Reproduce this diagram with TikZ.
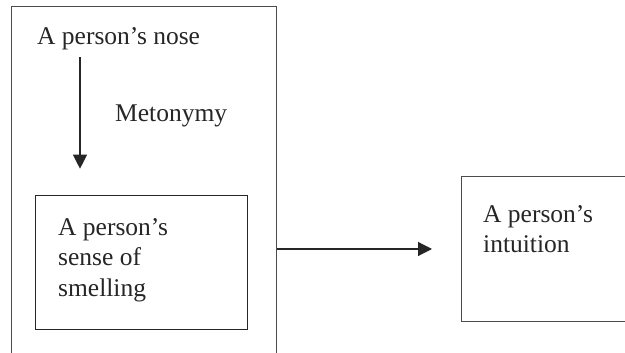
\documentclass[tikz,border=0pt]{standalone}
\usepackage{fontspec}
\setmainfont{Liberation Serif}
\usetikzlibrary{arrows.meta,calc}
\begin{document}
\begin{tikzpicture}[x=1pt,y=1pt,
  lbl/.style={inner sep=0pt, font=\fontsize{25.5}{30.5}\selectfont, align=left, text=black!85},
  outerframe/.style={draw=black!70, line width=1.1pt, inner sep=0pt},
  innerframe/.style={draw=black!85, line width=1.3pt, inner sep=0pt},
  arr/.style={draw=black!85, line width=1.2pt, -{Triangle[width=14pt,length=14pt]}}]
\useasboundingbox (0,0) rectangle (625,353);
% frames (the outer one runs off the bottom, the right one off the right edge)
\node[outerframe, anchor=south west, minimum width=265pt, minimum height=350pt] (outer) at (11,-4) {};
\node[innerframe, anchor=south west, minimum width=212pt, minimum height=134pt] (inner) at (35,23) {};
\node[outerframe, anchor=south west, minimum width=200pt, minimum height=145pt] (target) at (461,31) {};
% texts
\node[lbl, anchor=base west] (nose) at (37,308) {A person’s nose};
\node[lbl, anchor=base west] (meto) at (115,231) {Metonymy};
\node[lbl, anchor=north west] (smell) at (58,135) {A person’s\\sense of\\smelling};
\node[lbl, anchor=north west] (intu) at (483,148) {A person’s\\intuition};
% connectors
\coordinate (row) at (0,104);
\draw[arr, shorten <=6.5pt, shorten >=26pt] ([xshift=43pt]nose.south west) -- ([xshift=45pt]inner.north west);
\draw[arr, shorten >=29pt] (outer.east |- row) -- (target.west |- row);
\end{tikzpicture}
\end{document}
